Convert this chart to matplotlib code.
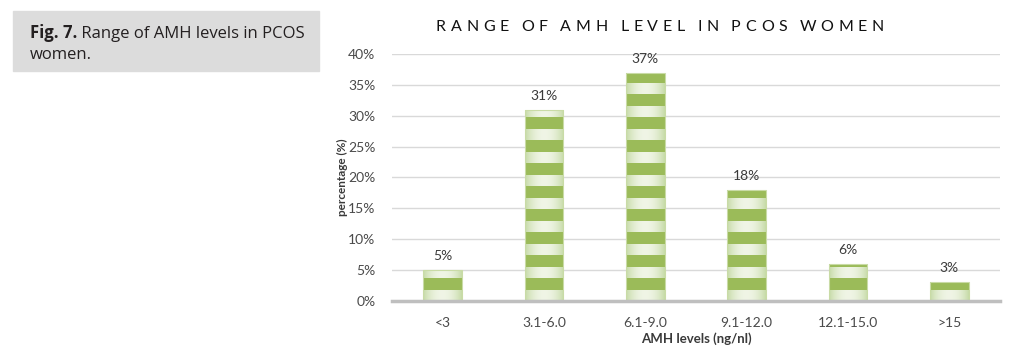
import matplotlib
matplotlib.use("Agg")
import matplotlib.pyplot as plt
import numpy as np
from matplotlib.patches import Rectangle
from matplotlib.ticker import FuncFormatter

# data
categories = ['<3', '3.1-6.0', '6.1-9.0', '9.1-12.0', '12.1-15.0', '>15']
percent = [5, 31, 37, 18, 6, 3]
title = 'RANGE OF AMH LEVEL IN PCOS WOMEN'

plt.rcParams['font.family'] = ['Lato', 'DejaVu Sans']

W, H = 1017, 353
fig = plt.figure(figsize=(W / 100, H / 100), dpi=100)
ax = fig.add_axes([392 / W, 1 - 300.7 / H, 608 / W, 246.4 / H])

x = np.arange(len(categories))
bars = ax.bar(x, percent, width=0.38, color='none', edgecolor='#C9DBA6',
              lw=0.8, zorder=4)

# light gradient with dark horizontal stripes, like the excel pattern fill
t = np.abs(np.linspace(-1, 1, 64)) ** 2
edge = np.array([0.78, 0.86, 0.66])
center = np.array([0.94, 0.96, 0.90])
grad = (center + (edge - center) * t[:, None])[None, :, :]
period, dark_start = 3.73, 1.79
for b in bars:
    x0, w, h = b.get_x(), b.get_width(), b.get_height()
    im = ax.imshow(grad, extent=(x0, x0 + w, 0, h), aspect='auto', zorder=2,
                   interpolation='bilinear')
    im.set_clip_path(b)
    y = dark_start
    while y < h:
        ax.add_patch(Rectangle((x0, y), w, min(period - dark_start, h - y),
                               color='#9BBB59', lw=0, zorder=3))
        y += period

for i, v in enumerate(percent):
    ax.text(i, v + 1.3, f'{v}%', ha='center', va='bottom', fontsize=10,
            color='#3A3A3A')

ax.set_xlim(-0.5, len(categories) - 0.5)
ax.set_ylim(0, 40)
ax.set_yticks(range(0, 41, 5))
ax.yaxis.set_major_formatter(FuncFormatter(lambda v, p: f'{v:.0f}%'))
ax.set_xticks(x)
ax.set_xticklabels(categories)
ax.tick_params(length=0, labelsize=10, labelcolor='#4A4A4A')
ax.tick_params(axis='y', pad=12)
ax.tick_params(axis='x', pad=12)
ax.yaxis.grid(True, color='#D9D9D9', lw=1)
ax.set_axisbelow(True)
for s in ['top', 'right', 'left']:
    ax.spines[s].set_visible(False)
ax.spines['bottom'].set_color('#BFBFBF')
ax.spines['bottom'].set_linewidth(2.5)
ax.spines['bottom'].set_zorder(5)

ax.set_ylabel('percentage (%)', fontsize=8.5, fontweight='bold', color='#3A3A3A',
              labelpad=0)
ax.set_xlabel('AMH levels (ng/nl)', fontsize=9.5, fontweight='bold', color='#3A3A3A',
              labelpad=2)

# letter spaced title, placed char by char
r = fig.canvas.get_renderer()
track = 4.7
widths = []
for ch in title:
    tt = fig.text(0, 0, ch if ch != ' ' else 'I', fontsize=11.5)
    widths.append(tt.get_window_extent(r).width if ch != ' ' else 3.0)
    tt.remove()
total = sum(widths) + track * (len(title) - 1)
px = 660 - total / 2
for ch, wd in zip(title, widths):
    if ch != ' ':
        fig.text(px / W, 1 - 27 / H, ch, fontsize=11.5, color='#111111', va='center')
    px += wd + track

# caption box
fig.patches.append(Rectangle((13 / W, 1 - 71 / H), 306 / W, 60 / H,
                             transform=fig.transFigure, color='#DCDCDC', zorder=0))
cap_font = ['Open Sans', 'DejaVu Sans']
t1 = fig.text(30 / W, 1 - 38 / H, 'Fig. 7.', fontsize=12, fontweight='bold',
              color='#231F20', family=cap_font, va='baseline')
w1 = t1.get_window_extent(r).width
fig.text((30 + w1) / W, 1 - 38 / H, ' Range of AMH levels in PCOS', fontsize=12,
         color='#231F20', family=cap_font, va='baseline')
fig.text(30 / W, 1 - 59 / H, 'women.', fontsize=12, color='#231F20',
         family=cap_font, va='baseline')

fig.savefig('out.png', dpi=100)
